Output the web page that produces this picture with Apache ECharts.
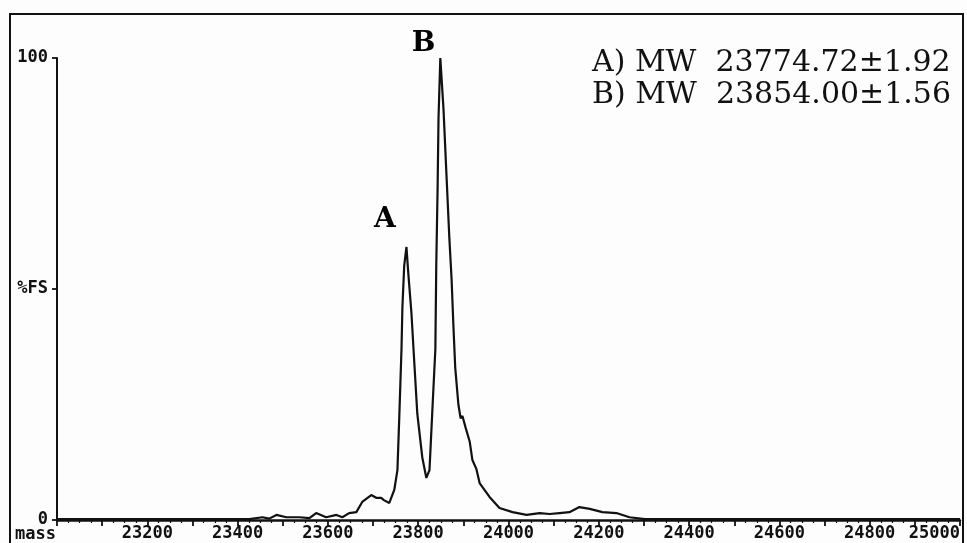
<!DOCTYPE html>
<html>
<head>
<meta charset="utf-8">
<script src="https://cdn.jsdelivr.net/npm/echarts@6/dist/echarts.min.js"></script>
<style>
html,body{margin:0;padding:0;background:#fdfdfd;}
#chart{width:967px;height:543px;}
</style>
</head>
<body>
<div id="chart"></div>
<script>
// mass (Da) and intensity (%FS)
const masses = [23000, 23200, 23426, 23455, 23470, 23486, 23508, 23537, 23559, 23574, 23596, 23619, 23632, 23647, 23663, 23676, 23696, 23707, 23718, 23724, 23736, 23747, 23754, 23758, 23763, 23765, 23769, 23774, 23778, 23785, 23792, 23798, 23809, 23818, 23825, 23831, 23838, 23840, 23843, 23845, 23849, 23851, 23856, 23862, 23869, 23874, 23878, 23882, 23889, 23894, 23898, 23905, 23914, 23920, 23929, 23936, 23958, 23980, 24009, 24040, 24069, 24091, 24113, 24135, 24157, 24180, 24208, 24239, 24268, 24302, 24600, 25000];
const intensity = [0.2, 0.2, 0.2, 0.6, 0.3, 1.1, 0.6, 0.6, 0.4, 1.5, 0.6, 1.1, 0.6, 1.5, 1.7, 3.9, 5.4, 4.8, 4.8, 4.3, 3.7, 6.5, 10.8, 22, 37, 46, 55, 59.1, 53.5, 44.8, 33, 23, 13.6, 9.1, 10.8, 23, 37, 55, 72, 87, 100, 100, 89, 76, 61, 52, 42, 33, 25, 22, 22.5, 20, 17, 13, 11, 8, 5, 2.6, 1.7, 1.1, 1.5, 1.3, 1.5, 1.7, 2.8, 2.4, 1.7, 1.5, 0.6, 0.2, 0.2, 0.2];

const xTickLabels = ['23200', '23400', '23600', '23800', '24000', '24200', '24400', '24600', '24800', '25000'];
const yTickLabels = {0: '0', 50: '%FS', 100: '100'};
const peakLabels = [{name: 'A', mass: 23726, value: 65}, {name: 'B', mass: 23812, value: 103}];
const resultLines = ['A) MW  23774.72±1.92', 'B) MW  23854.00±1.56'];

const chart = echarts.init(document.getElementById('chart'));
const monoBold = {fontFamily: 'DejaVu Sans Mono', fontWeight: 'bold', color: '#111', fontSize: 17};

chart.setOption({
  backgroundColor: '#fdfdfd',
  animation: false,
  grid: {left: 57, right: 7, top: 58, bottom: 23},
  xAxis: {
    type: 'value', min: 23000, max: 25000, interval: 100,
    axisLine: {show: true, lineStyle: {color: '#111', width: 2.5}},
    axisTick: {show: true, inside: false, length: 6, lineStyle: {color: '#111', width: 1.8}},
    minorTick: {show: true, splitNumber: 4, length: 3, lineStyle: {color: '#111', width: 1.2}},
    splitLine: {show: false},
    axisLabel: Object.assign({
      margin: 5,
      alignMaxLabel: 'right',
      formatter: function (v) {
        const s = String(v);
        return xTickLabels.indexOf(s) >= 0 ? s : '';
      }
    }, monoBold)
  },
  yAxis: {
    type: 'value', min: 0, max: 100, interval: 50,
    axisLine: {show: true, lineStyle: {color: '#111', width: 2}},
    axisTick: {show: true, length: 5, lineStyle: {color: '#111', width: 1.8}},
    splitLine: {show: false},
    axisLabel: Object.assign({
      margin: 9,
      formatter: function (v) { return yTickLabels[v] || ''; }
    }, monoBold)
  },
  series: [
    {
      type: 'line',
      data: masses.map((m, i) => [m, intensity[i]]),
      symbol: 'none',
      lineStyle: {color: '#111', width: 2.2},
      clip: false
    },
    {
      type: 'scatter',
      data: peakLabels.map(p => [p.mass, p.value, p.name]),
      symbolSize: 0,
      itemStyle: {opacity: 1},
      label: {
        show: true, position: 'inside', opacity: 1,
        formatter: p => p.data[2],
        fontFamily: 'DejaVu Serif', fontWeight: 'bold', fontSize: 28, color: '#000',
        textBorderWidth: 0
      },
      clip: false
    }
  ],
  graphic: [
    {type: 'rect', shape: {x: 10, y: 14, width: 953, height: 540},
     style: {fill: null, stroke: '#111', lineWidth: 2}, z: 0, silent: true},
    {type: 'text', left: 15, top: 526,
     style: {text: 'mass', font: 'bold 17px "DejaVu Sans Mono"', fill: '#111'}},
    {type: 'text', left: 592, top: 47,
     style: {text: resultLines.join('\n'), font: '30px "DejaVu Serif"', fill: '#111',
             lineHeight: 32, align: 'left'}}
  ]
});
</script>
</body>
</html>
